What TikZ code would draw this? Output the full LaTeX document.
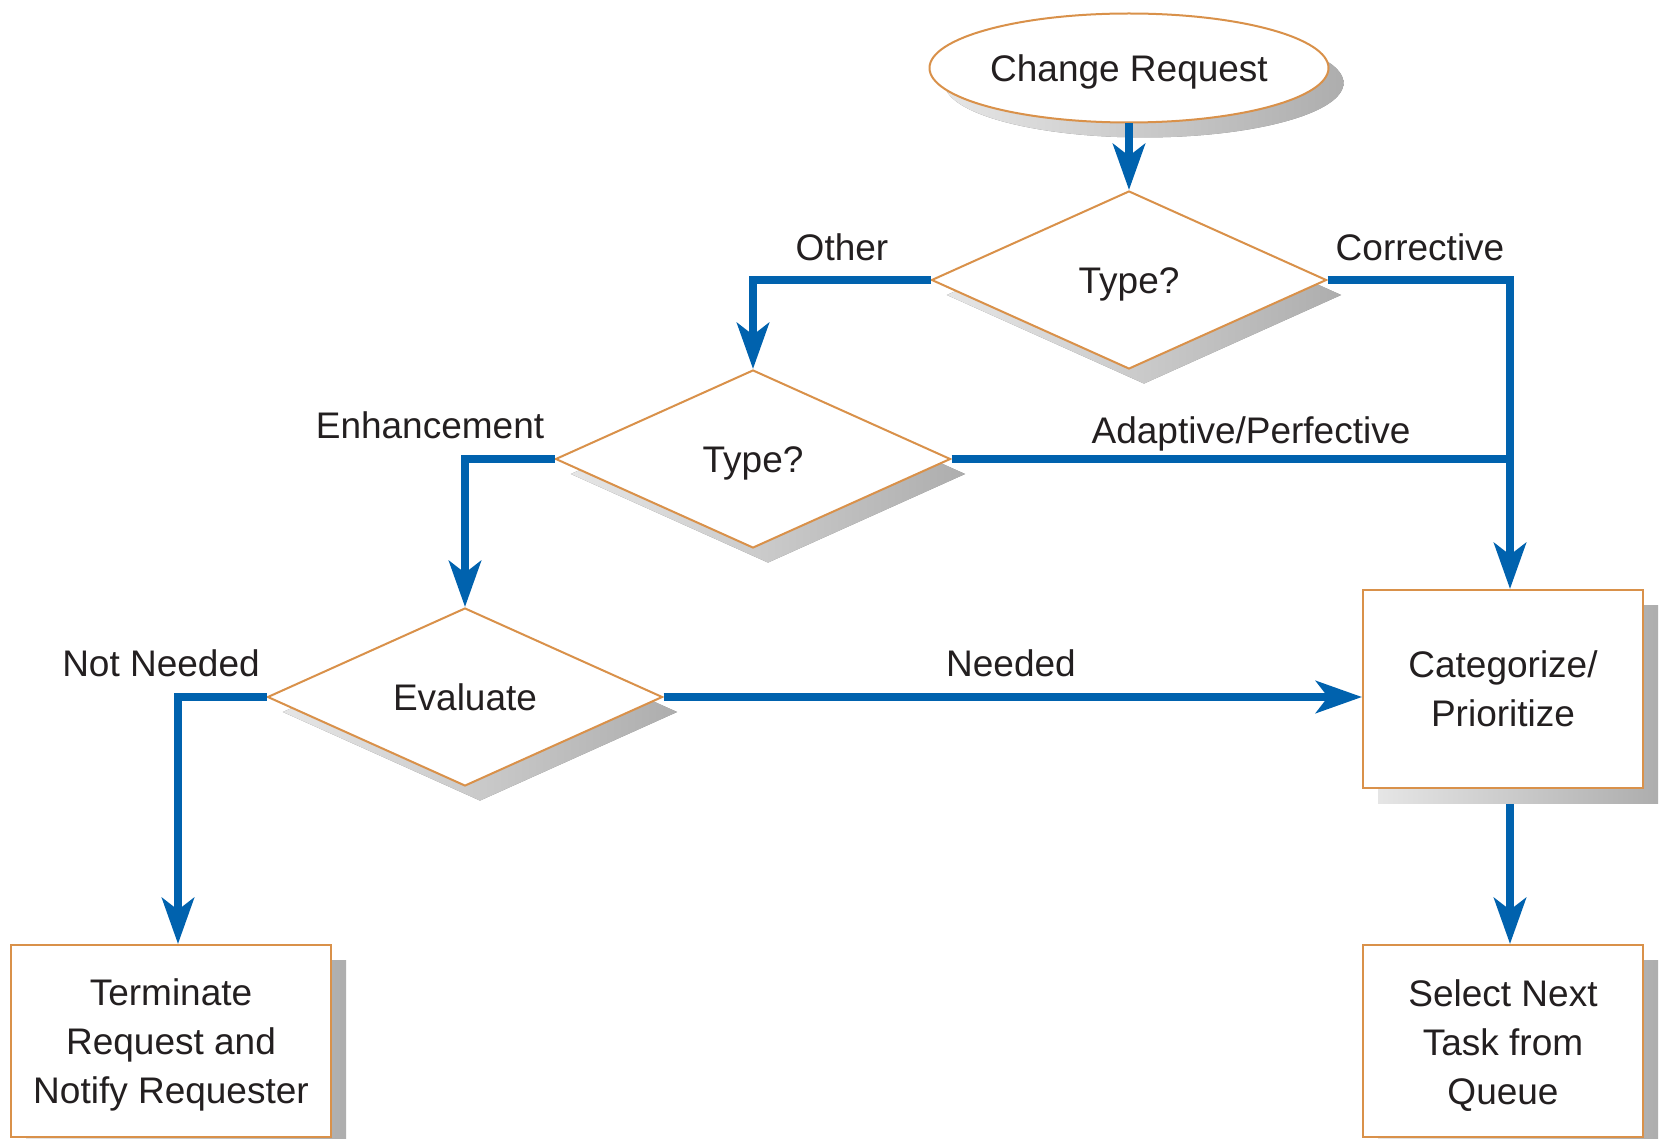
\documentclass[tikz,border=0pt]{standalone}
\usepackage{fontspec}
\setmainfont{Liberation Sans}
\usetikzlibrary{arrows.meta,shapes.geometric,shadows}

\definecolor{flowblue}{HTML}{0062AE}
\definecolor{edgeorange}{HTML}{D9914A}
\definecolor{inkdark}{HTML}{231F20}

\newcommand{\firstlinestrut}{\rule{0pt}{35pt}}

\tikzset{
  basefont/.style={font=\fontsize{37pt}{49pt}\selectfont, text=inkdark},
  softshadow/.style={drop shadow={shadow xshift=15pt, shadow yshift=-15pt,
      opacity=1, left color=black!10, right color=black!32}},
  shapebase/.style={basefont, draw=edgeorange, line width=2pt, fill=white,
      inner sep=0pt, softshadow},
  oneline/.style={text height=26.6pt, text depth=0pt},
  terminal/.style={shapebase, oneline, ellipse, minimum width=399pt, minimum height=109pt},
  decision/.style={shapebase, oneline, diamond, minimum width=395pt, minimum height=178pt},
  process/.style={shapebase, rectangle, align=center, minimum width=280pt},
  flow/.style={draw=flowblue, line width=8pt,
      -{Stealth[length=46pt, width=32pt, inset=12pt]}},
  flowplain/.style={draw=flowblue, line width=8pt},
  tag/.style={basefont, anchor=base, inner sep=0pt},
}

\begin{document}
\begin{tikzpicture}[x=1pt, y=-1pt]
  \useasboundingbox (0,0) rectangle (1665,1139);
  \fill[white] (0,0) rectangle (1665,1139);
  \clip (0,0) rectangle (1665,1139);

  % shapes
  \node[terminal] (cr) at (1129,68) {Change Request};
  \node[decision] (t1) at (1129,280) {Type?};
  \node[decision] (t2) at (753,459) {Type?};
  \node[decision] (ev) at (465,697) {Evaluate};
  \node[process, minimum height=198pt] (cat) at (1503,689) {Categorize/\\Prioritize};
  \node[process, minimum height=192pt] (sel) at (1503,1041)
       {\firstlinestrut Select Next\\Task from\\Queue};
  \node[process, minimum width=320pt, minimum height=192pt] (term) at (171,1041)
       {\firstlinestrut Terminate\\Request and\\Notify Requester};

  % junction on the right-hand trunk
  \coordinate (trunk) at (1510,459);

  % connectors
  \draw[flow] (cr.south) -- (t1.north);
  \draw[flow] (t1.west) -| (t2.north);
  \draw[flow] (t1.east) -| ([xshift=7pt]cat.north);
  \draw[flowplain] (t2.east) -- (trunk);
  \draw[flow] (t2.west) -| (ev.north);
  \draw[flow] (ev.west) -| ([xshift=7pt]term.north);
  \draw[flow] (ev.east) -- (ev.east -| cat.west);
  \draw[flow] ([xshift=7pt, yshift=-15pt]cat.south) -- ([xshift=7pt]sel.north);

  % branch labels
  \node[tag] (lother) at (842,261) {Other};
  \node[tag] (lcorr) at (1420,261) {Corrective};
  \node[tag] (lenh) at (430,438) {Enhancement};
  \node[tag] (ladapt) at (1251,443) {Adaptive/Perfective};
  \node[tag] (lnot) at (161,676) {Not Needed};
  \node[tag] (lneed) at (1011,676) {Needed};
\end{tikzpicture}
\end{document}
